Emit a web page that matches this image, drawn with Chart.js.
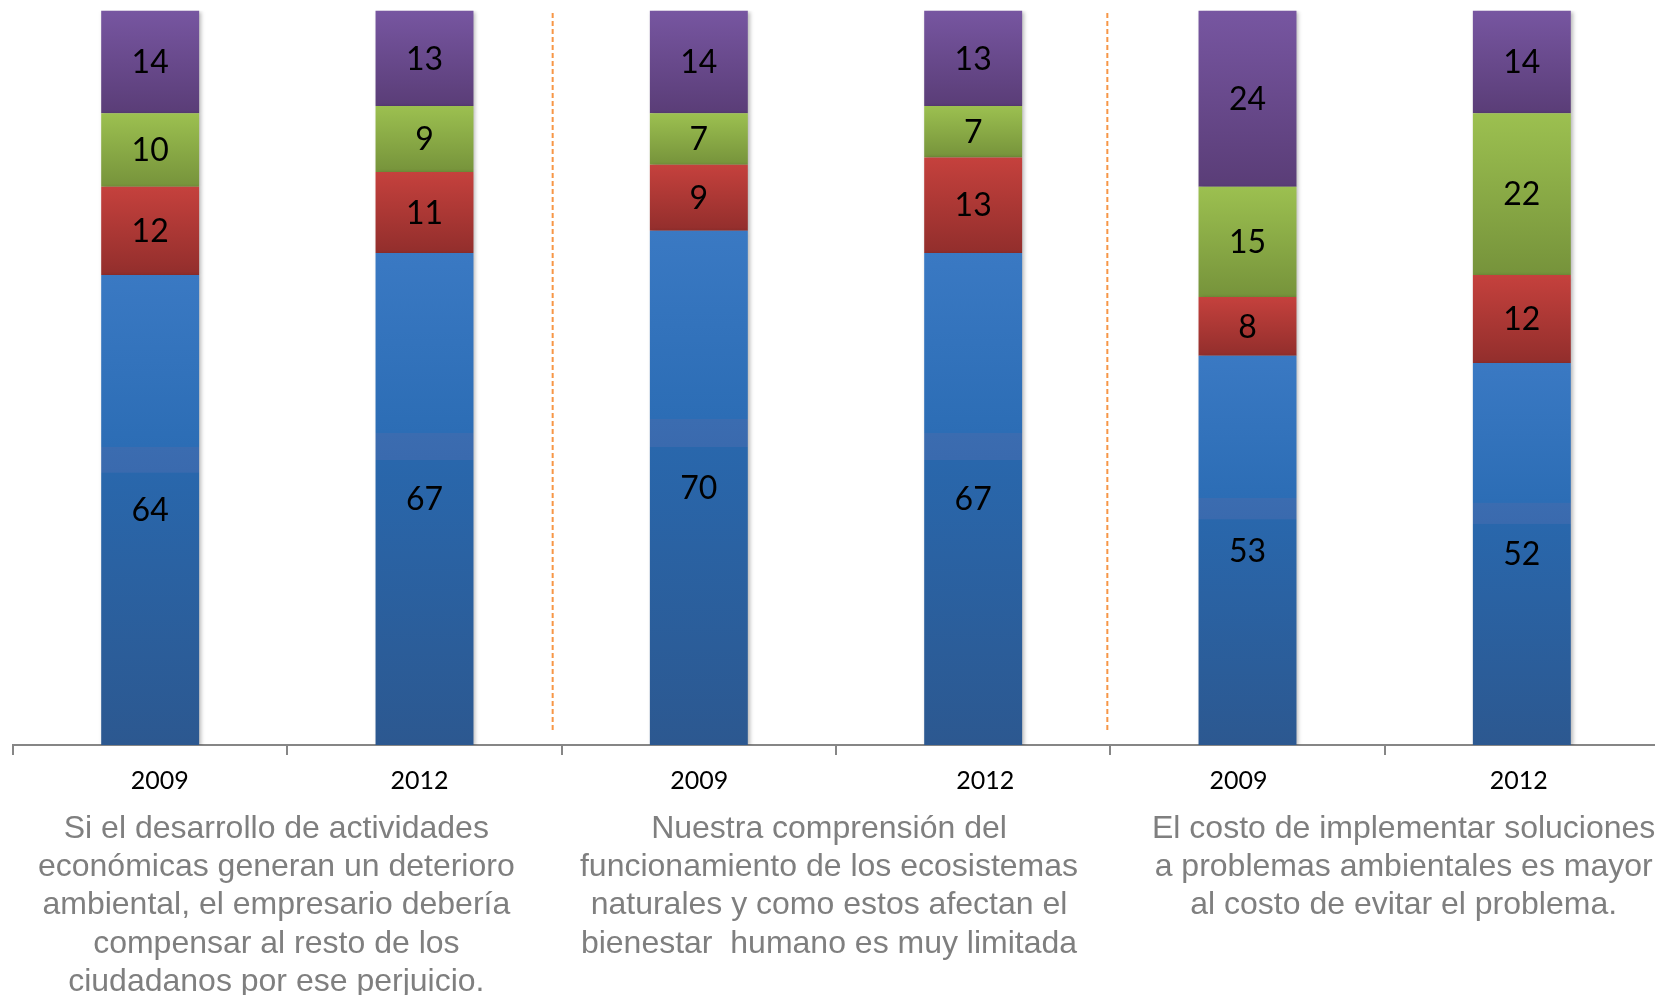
<!DOCTYPE html>
<html>
<head>
<meta charset="utf-8">
<script src="https://cdn.jsdelivr.net/npm/chart.js@4.4.1/dist/chart.umd.min.js"></script>
<style>
  html, body { margin: 0; padding: 0; background: #ffffff; overflow: hidden; }
  #wrap { width: 1662px; height: 995px; }
</style>
</head>
<body>
<div id="wrap"><canvas id="stackChart"></canvas></div>
<script>
// STACKED BARS — percentages per statement, 2009 vs 2012

var years = ["2009", "2012", "2009", "2012", "2009", "2012"];

var blueValues = [64, 67, 70, 67, 53, 52];
var redValues = [12, 11, 9, 13, 8, 12];
var greenValues = [10, 9, 7, 7, 15, 22];
var purpleValues = [14, 13, 14, 13, 24, 14];

var statements = [
    ["Si el desarrollo de actividades", "económicas generan un deterioro", "ambiental, el empresario debería", "compensar al resto de los", "ciudadanos por ese perjuicio."],
    ["Nuestra comprensión del", "funcionamiento de los ecosistemas", "naturales y como estos afectan el", "bienestar  humano es muy limitada"],
    ["El costo de implementar soluciones", "a problemas ambientales es mayor", "al costo de evitar el problema."]
];

var stackOrder = [blueValues, redValues, greenValues, purpleValues];

// gradient per segment, top light -> bottom dark (Office style)
function segmentFill(stops) {
    return function (ctx) {
        var chart = ctx.chart;
        var y = chart.scales && chart.scales.y;
        if (!y || ctx.type !== "data") return stops[0][1];
        var i = ctx.dataIndex, d = ctx.datasetIndex;
        var base = 0;
        for (var k = 0; k < d; k++) base += stackOrder[k][i];
        var top = base + stackOrder[d][i];
        var y0 = y.getPixelForValue(top), y1 = y.getPixelForValue(base);
        if (!isFinite(y0) || !isFinite(y1) || y0 === y1) return stops[0][1];
        var g = chart.ctx.createLinearGradient(0, y0, 0, y1);
        stops.forEach(function (s) { g.addColorStop(s[0], s[1]); });
        return g;
    };
}

var blueStops = [[0, "#3a79c3"], [0.365, "#2c6db5"], [0.366, "#3b6cb0"], [0.42, "#3a6aae"], [0.421, "#2967ac"], [1, "#2c5890"]];
var redStops = [[0, "#c5413d"], [1, "#922e2c"]];
var greenStops = [[0, "#9cc050"], [1, "#76933b"]];
var purpleStops = [[0, "#7756a1"], [1, "#5a3d77"]];

// the year boxes in the original sit a little off the bar centres
var yearShift = [9.5, -5, 0.5, 12, -9, -3];
var groupTextShift = [-11, -7, 19];
var separatorShift = [-9, -3];

var extras = {
    id: "extras",
    beforeDatasetsDraw: function (chart) {
        var c = chart.ctx;
        c.save();
        c.shadowColor = "rgba(0,0,0,0.28)";
        c.shadowBlur = 4;
        c.shadowOffsetX = 2;
        c.shadowOffsetY = 1;
    },
    afterDatasetsDraw: function (chart) {
        var c = chart.ctx;
        c.restore();
        var x = chart.scales.x;

        // value labels
        c.save();
        c.fillStyle = "#000000";
        c.font = "32px Lato";
        c.textAlign = "center";
        c.textBaseline = "middle";
        chart.data.datasets.forEach(function (ds, di) {
            chart.getDatasetMeta(di).data.forEach(function (el, i) {
                c.fillText(String(ds.data[i]), el.x, (el.y + el.base) / 2 + 1);
            });
        });

        // year labels
        c.font = "25px Lato";
        chart.data.labels.forEach(function (lab, i) {
            c.fillText(lab, x.getPixelForValue(i) + yearShift[i], 781);
        });

        // group separators
        c.strokeStyle = "#f79646";
        c.lineWidth = 2;
        c.setLineDash([5, 3]);
        [1, 3].forEach(function (v, k) {
            var px = (x.getPixelForValue(v) + x.getPixelForValue(v + 1)) / 2 + separatorShift[k];
            c.beginPath();
            c.moveTo(px, 13);
            c.lineTo(px, 730);
            c.stroke();
        });
        c.setLineDash([]);

        // statements under each pair
        c.fillStyle = "#7f7f7f";
        c.font = "32px 'Liberation Sans', Arial, sans-serif";
        statements.forEach(function (lines, g) {
            var cx = (x.getPixelForValue(g * 2) + x.getPixelForValue(g * 2 + 1)) / 2 + groupTextShift[g];
            lines.forEach(function (t, j) {
                c.fillText(t, cx, 829 + j * 38.3);
            });
        });
        c.restore();
    }
};

var chartEl = document.getElementById("stackChart");

new Chart(chartEl, {
    type: "bar",
    data: {
        labels: years,
        datasets: [
            { label: "blue", data: blueValues, backgroundColor: segmentFill(blueStops) },
            { label: "red", data: redValues, backgroundColor: segmentFill(redStops) },
            { label: "green", data: greenValues, backgroundColor: segmentFill(greenStops) },
            { label: "purple", data: purpleValues, backgroundColor: segmentFill(purpleStops) }
        ]
    },
    options: {
        responsive: true,
        maintainAspectRatio: false,
        animation: false,
        events: [],
        layout: { padding: { left: 13, right: 3, top: 10.5, bottom: 0 } },
        datasets: { bar: { categoryPercentage: 1, barPercentage: 0.357, borderWidth: 0 } },
        plugins: { legend: { display: false }, tooltip: { enabled: false } },
        scales: {
            x: {
                stacked: true,
                afterFit: function (s) { s.height = 250; },
                grid: { display: true, drawOnChartArea: false, drawTicks: true, tickLength: 10, color: "#868686", lineWidth: 2, offset: true },
                border: { display: true, color: "#868686", width: 2 },
                ticks: { display: false }
            },
            y: {
                stacked: true,
                display: false,
                min: 0,
                max: 100
            }
        }
    },
    plugins: [extras]
});
</script>
</body>
</html>
